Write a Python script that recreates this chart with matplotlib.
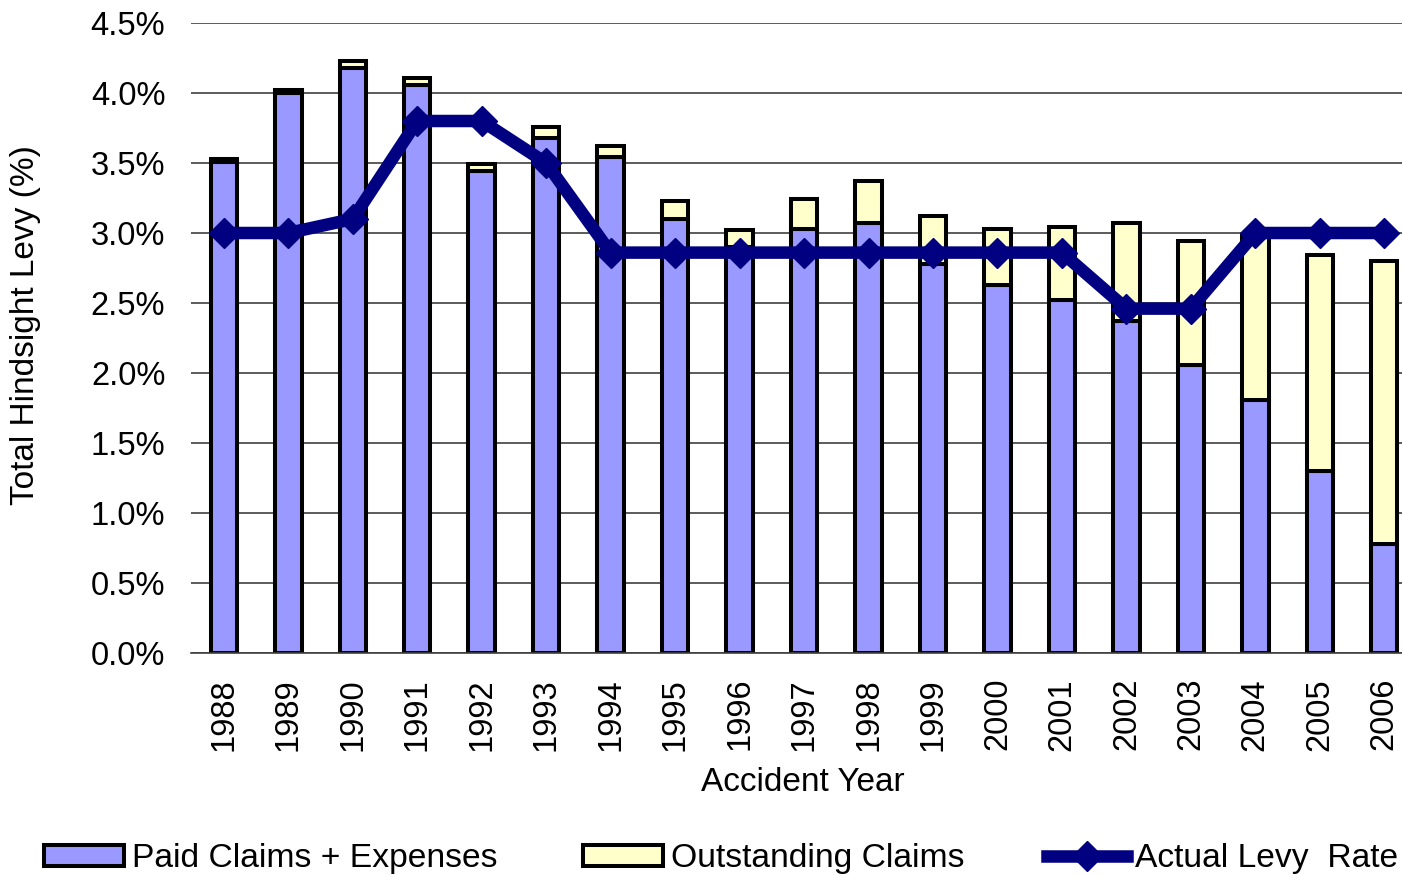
import matplotlib
matplotlib.use("Agg")
import matplotlib.pyplot as plt
from matplotlib.ticker import FuncFormatter
from matplotlib.patches import Patch
from matplotlib.lines import Line2D

years = ["1988", "1989", "1990", "1991", "1992", "1993", "1994", "1995", "1996", "1997",
         "1998", "1999", "2000", "2001", "2002", "2003", "2004", "2005", "2006"]
paid = [3.51, 4.00, 4.18, 4.06, 3.44, 3.68, 3.54, 3.10, 2.90, 3.03,
        3.07, 2.78, 2.63, 2.52, 2.37, 2.06, 1.81, 1.30, 0.78]
outstanding = [0.02, 0.02, 0.05, 0.05, 0.05, 0.08, 0.08, 0.13, 0.12, 0.21,
               0.30, 0.34, 0.40, 0.52, 0.70, 0.88, 1.17, 1.54, 2.02]
levy = [3.00, 3.00, 3.10, 3.80, 3.80, 3.50, 2.86, 2.86, 2.86, 2.86,
        2.86, 2.86, 2.86, 2.86, 2.46, 2.46, 3.00, 3.00, 3.00]
yticks = [0.0, 0.5, 1.0, 1.5, 2.0, 2.5, 3.0, 3.5, 4.0, 4.5]

plt.rcParams['font.family'] = ['Liberation Sans', 'DejaVu Sans']
FS = 23.5
FS_LABEL = 24
FS_LEG = 24.2

W, H = 1402, 875
fig = plt.figure(figsize=(W / 100, H / 100), dpi=100)
ax = fig.add_axes([191 / W, 1 - 653 / H, (W - 191) / W, (653 - 23) / H])

x = list(range(len(years)))
blue = '#9999FF'
cream = '#FFFFCC'
navy = '#000080'
EW = 2.9

ax.bar(x, paid, width=0.41, color=blue, edgecolor='black', linewidth=EW, zorder=2)
ax.bar(x, outstanding, width=0.41, bottom=paid, color=cream, edgecolor='black',
       linewidth=EW, zorder=2)
ax.plot(x, levy, color=navy, linewidth=9, marker='D', markersize=15,
        markeredgecolor=navy, markerfacecolor=navy, zorder=3, solid_joinstyle='miter')

ax.set_xlim(-0.509, 18.275)
ax.set_ylim(0, 4.5)
ax.set_yticks(yticks)
ax.yaxis.set_major_formatter(FuncFormatter(lambda v, p: f"{v:.1f}%"))
ax.set_xticks(x)
ax.set_xticklabels(years, rotation=90)
ax.tick_params(axis='y', length=0, pad=18.5, labelsize=FS)
ax.tick_params(axis='x', length=0, pad=18, labelsize=FS)

ax.grid(axis='y', color='#404040', linewidth=1.2)
ax.set_axisbelow(True)
for s in ['top', 'right', 'left']:
    ax.spines[s].set_visible(False)
ax.spines['bottom'].set_color('#404040')
ax.spines['bottom'].set_linewidth(1.2)

ax.set_ylabel("Total Hindsight Levy (%)", fontsize=FS_LABEL, va='center')
ax.yaxis.set_label_coords(-0.137, 0.52)
ax.set_xlabel("Accident Year", fontsize=FS_LABEL, va='center')
ax.xaxis.set_label_coords(0.505, -0.205)

handles = [
    Patch(facecolor=blue, edgecolor='black', linewidth=EW),
    Patch(facecolor=cream, edgecolor='black', linewidth=EW),
    Line2D([0], [0], color=navy, linewidth=9, marker='D', markersize=15,
           markerfacecolor=navy, markeredgecolor=navy),
]
labels = ["Paid Claims + Expenses", "Outstanding Claims", "Actual Levy  Rate"]
xpos = [44, 583, 1047]
hl = 80 / (FS_LEG * 100 / 72)
for h, l, xp in zip(handles, labels, xpos):
    fig.legend([h], [l], loc='center left', bbox_to_anchor=(xp / W, 1 - 859 / H),
               frameon=False, fontsize=FS_LEG, borderpad=0, borderaxespad=0,
               handlelength=hl, handleheight=0.6, handletextpad=0.25, numpoints=1)

fig.savefig("out.png", dpi=100)
